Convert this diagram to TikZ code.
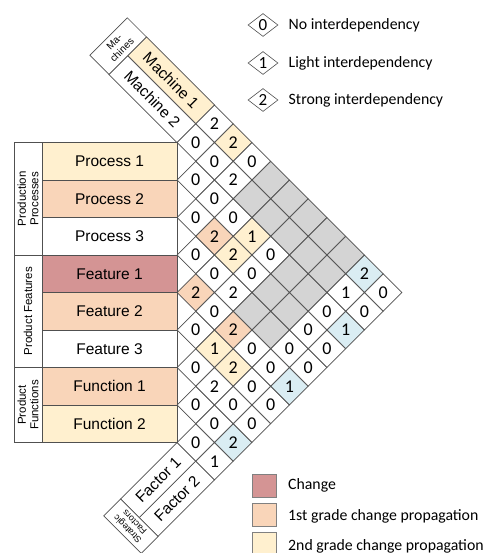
\documentclass[tikz,border=0pt]{standalone}
\usepackage{fontspec}
\setmainfont{Carlito}
\newfontfamily\arialf{Liberation Sans}
\usetikzlibrary{shapes.geometric}
\definecolor{chg}{HTML}{D49494}
\definecolor{first}{HTML}{F9D5B9}
\definecolor{second}{HTML}{FFF0CF}
\definecolor{blu}{HTML}{DAEDF3}
\definecolor{gry}{HTML}{D4D4D4}
\definecolor{brd}{HTML}{505050}
\newcommand{\dsmcell}[5]{%
  \node[cellnode, fill=#5] (#1) at ({177+18.75*((#3)-(#2))},{161.25+18.75*((#2)+(#3))}) {#4};}
\begin{document}
\begin{tikzpicture}[x=1pt,y=-1pt,
  cellnode/.style={diamond, draw=brd, line width=0.6pt, minimum width=37.5pt, minimum height=37.5pt, inner sep=0pt, font=\fontsize{18}{18}\selectfont},
  rowlab/.style={rectangle, draw=brd, line width=0.7pt, minimum width=135pt, minimum height=37.5pt, inner sep=0pt, font=\arialf\fontsize{15.5}{18}\selectfont},
  catlab/.style={rectangle, draw=brd, line width=0.7pt, fill=white, minimum height=28pt, inner sep=0pt, align=center, font=\arialf\fontsize{11.5}{12.5}\selectfont},
  bandlab/.style={rectangle, draw=brd, line width=0.7pt, minimum height=26.52pt, inner sep=0pt, font=\arialf\fontsize{15.5}{18}\selectfont},
  legdia/.style={diamond, draw=brd, line width=0.6pt, minimum width=30pt, minimum height=23pt, inner sep=0pt, font=\fontsize{17}{17}\selectfont},
  legtxt/.style={anchor=west, inner sep=0pt, font=\fontsize{15.8}{18}\selectfont},
  swatch/.style={rectangle, draw=gray, line width=0.6pt, minimum width=24pt, minimum height=23pt, inner sep=0pt}
]
\useasboundingbox (0,0) rectangle (486,553);
% left column labels
\node[rowlab, fill=second] (p1) at (109.5,161.25) {Process 1};
\node[rowlab, fill=first]  (p2) at (109.5,198.75) {Process 2};
\node[rowlab, fill=white]  (p3) at (109.5,236.25) {Process 3};
\node[rowlab, fill=chg]    (f1) at (109.5,273.75) {Feature 1};
\node[rowlab, fill=first]  (f2) at (109.5,311.25) {Feature 2};
\node[rowlab, fill=white]  (f3) at (109.5,348.75) {Feature 3};
\node[rowlab, fill=first]  (u1) at (109.5,386.25) {Function 1};
\node[rowlab, fill=second] (u2) at (109.5,423.75) {Function 2};
\node[catlab, rotate=90, minimum width=112.5pt] (cpp) at (28,198.75) {Production\\Processes};
\node[catlab, rotate=90, minimum width=112.5pt] (cpf) at (28,311.25) {Product Features};
\node[catlab, rotate=90, minimum width=75pt] (cfu) at (28,405) {Product\\Functions};
% machines
\node[bandlab, rotate=-45, minimum width=96.3pt, fill=second] (m1) at (171.1,80.3) {Machine 1};
\node[bandlab, rotate=-45, minimum width=96.3pt, fill=white] (m2) at (152.3,99.1) {Machine 2};
\node[catlab, rotate=45, minimum width=53.03pt, minimum height=27.1pt, font=\arialf\fontsize{10}{11}\selectfont] (cm) at (118.1,46.1) {Ma-\\chines};
% factors
\node[bandlab, rotate=45, minimum width=79.8pt, fill=white] (s1) at (158.2,480.1) {Factor 1};
\node[bandlab, rotate=45, minimum width=79.8pt, fill=white] (s2) at (176.9,498.8) {Factor 2};
\node[catlab, rotate=135, minimum width=53.03pt, minimum height=23.8pt, font=\arialf\fontsize{9}{10}\selectfont] (cs) at (130.9,526.1) {Strategic\\Factors};
% cells d=1
\dsmcell{a1}{-1}{0}{0}{white}
\dsmcell{a2}{0}{1}{0}{white}
\dsmcell{a3}{1}{2}{0}{white}
\dsmcell{a4}{2}{3}{0}{white}
\dsmcell{a5}{3}{4}{2}{first}
\dsmcell{a6}{4}{5}{0}{white}
\dsmcell{a7}{5}{6}{0}{white}
\dsmcell{a8}{6}{7}{0}{white}
\dsmcell{a9}{7}{8}{0}{white}
% d=2
\dsmcell{b1}{-2}{0}{2}{white}
\dsmcell{b2}{-1}{1}{0}{white}
\dsmcell{b3}{0}{2}{0}{white}
\dsmcell{b4}{1}{3}{2}{first}
\dsmcell{b5}{2}{4}{0}{white}
\dsmcell{b6}{3}{5}{0}{white}
\dsmcell{b7}{4}{6}{1}{second}
\dsmcell{b8}{5}{7}{2}{white}
\dsmcell{b9}{6}{8}{0}{white}
\dsmcell{b10}{7}{9}{1}{white}
% d=3
\dsmcell{c1}{-2}{1}{2}{second}
\dsmcell{c2}{-1}{2}{2}{white}
\dsmcell{c3}{0}{3}{0}{white}
\dsmcell{c4}{1}{4}{2}{second}
\dsmcell{c5}{2}{5}{2}{white}
\dsmcell{c6}{3}{6}{2}{first}
\dsmcell{c7}{4}{7}{2}{second}
\dsmcell{c8}{5}{8}{0}{white}
\dsmcell{c9}{6}{9}{2}{blu}
% d=4
\dsmcell{d1}{-2}{2}{0}{white}
\dsmcell{d2}{-1}{3}{}{gry}
\dsmcell{d3}{0}{4}{1}{second}
\dsmcell{d4}{1}{5}{0}{white}
\dsmcell{d5}{2}{6}{}{gry}
\dsmcell{d6}{3}{7}{0}{white}
\dsmcell{d7}{4}{8}{0}{white}
\dsmcell{d8}{5}{9}{0}{white}
% d=5
\dsmcell{e1}{-2}{3}{}{gry}
\dsmcell{e2}{-1}{4}{}{gry}
\dsmcell{e3}{0}{5}{0}{white}
\dsmcell{e4}{1}{6}{}{gry}
\dsmcell{e5}{2}{7}{}{gry}
\dsmcell{e6}{3}{8}{0}{white}
\dsmcell{e7}{4}{9}{0}{white}
% d=6
\dsmcell{g1}{-2}{4}{}{gry}
\dsmcell{g2}{-1}{5}{}{gry}
\dsmcell{g3}{0}{6}{}{gry}
\dsmcell{g4}{1}{7}{}{gry}
\dsmcell{g5}{2}{8}{0}{white}
\dsmcell{g6}{3}{9}{1}{blu}
% d=7
\dsmcell{h1}{-2}{5}{}{gry}
\dsmcell{h2}{-1}{6}{}{gry}
\dsmcell{h3}{0}{7}{}{gry}
\dsmcell{h4}{1}{8}{0}{white}
\dsmcell{h5}{2}{9}{0}{white}
% d=8
\dsmcell{k1}{-2}{6}{}{gry}
\dsmcell{k2}{-1}{7}{}{gry}
\dsmcell{k3}{0}{8}{0}{white}
\dsmcell{k4}{1}{9}{0}{white}
% d=9
\dsmcell{l1}{-2}{7}{}{gry}
\dsmcell{l2}{-1}{8}{1}{white}
\dsmcell{l3}{0}{9}{1}{blu}
% d=10
\dsmcell{n1}{-2}{8}{2}{blu}
\dsmcell{n2}{-1}{9}{0}{white}
% d=11
\dsmcell{o1}{-2}{9}{0}{white}
% legend top
\node[legdia] (ld0) at (263,25) {0};
\node[legdia] (ld1) at (263,63) {1};
\node[legdia] (ld2) at (263,100) {2};
\node[legtxt] (lt0) at (288.5,25) {No interdependency};
\node[legtxt] (lt1) at (288.5,63) {Light interdependency};
\node[legtxt] (lt2) at (288.5,100) {Strong interdependency};
% legend bottom
\node[swatch, fill=chg] (sw0) at (264,485.5) {};
\node[swatch, fill=first] (sw1) at (264,515) {};
\node[swatch, fill=second] (sw2) at (264,544) {};
\node[legtxt] (st0) at (288,485.5) {Change};
\node[legtxt] (st1) at (288,516) {1st grade change propagation};
\node[legtxt] (st2) at (288,546) {2nd grade change propagation};
\end{tikzpicture}
\end{document}
